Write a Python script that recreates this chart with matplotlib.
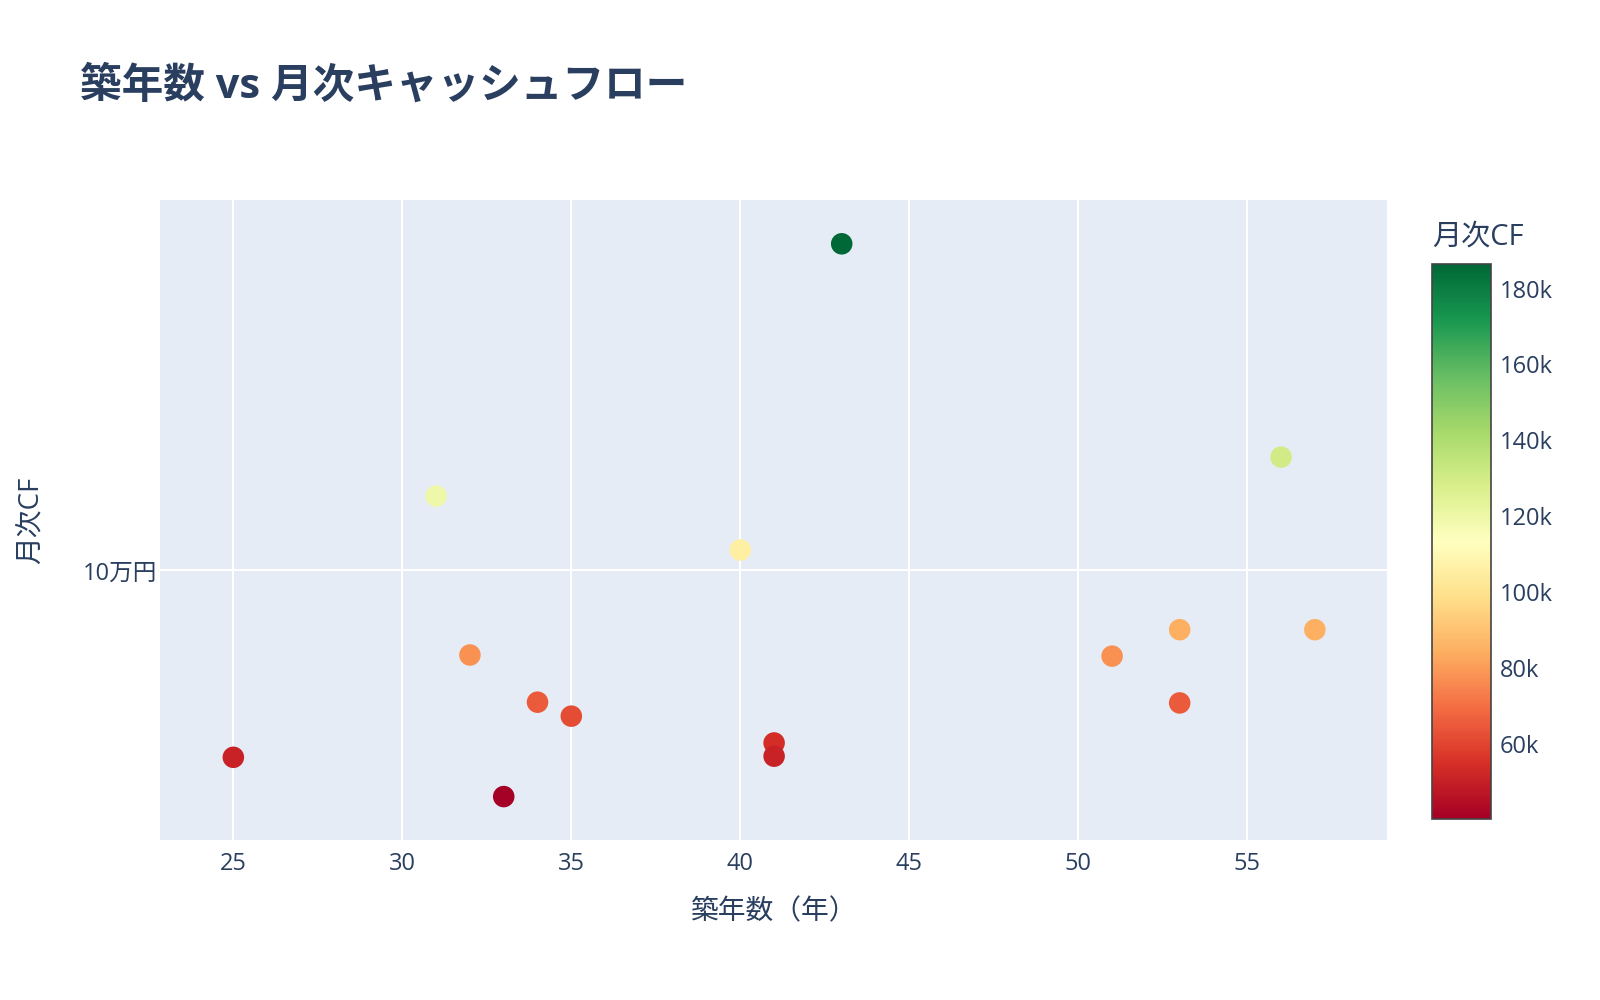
import matplotlib.pyplot as plt
import matplotlib as mpl
import numpy as np

plt.rcParams["font.family"] = ["Open Sans", "Noto Sans CJK JP", "DejaVu Sans"]

# 築年数 (years) and monthly cash flow (yen)
age = [43, 56, 31, 40, 53, 57, 32, 51, 34, 53, 35, 41, 25, 41, 33]
cf = [186500, 130000, 119700, 105400, 84300, 84300, 77600, 77300,
      65100, 64900, 61400, 54300, 50500, 50800, 40100]
cbar_ticks = [60000, 80000, 100000, 120000, 140000, 160000, 180000]
cbar_labels = ["60k", "80k", "100k", "120k", "140k", "160k", "180k"]

txt = "#2a3f5f"

fig = plt.figure(figsize=(16, 10), dpi=100)
ax = fig.add_axes([0.100, 0.160, 0.767, 0.640])
ax.set_facecolor("#e5ecf6")
for s in ax.spines.values():
    s.set_visible(False)

norm = mpl.colors.Normalize(vmin=min(cf), vmax=max(cf))
sc = ax.scatter(age, cf, c=cf, cmap="RdYlGn", norm=norm, s=240,
                edgecolors="none", zorder=3)

ax.set_xlim(22.83, 59.14)
ax.set_ylim(28600, 198100)
ax.set_xticks([25, 30, 35, 40, 45, 50, 55])
ax.set_yticks([100000])
ax.set_yticklabels(["10万円"])
ax.grid(True, color="white", linewidth=1.5, zorder=0)
ax.set_axisbelow(True)
ax.tick_params(axis="x", length=0, labelsize=17, colors=txt, pad=9)
ax.tick_params(axis="y", length=0, labelsize=17, colors=txt, pad=2)

fig.text(0.019, 0.48, "月次CF", rotation=90, fontsize=20, color=txt,
         ha="center", va="center")
fig.text(0.483, 0.088, "築年数（年）", fontsize=20, color=txt,
         ha="center", va="center")
fig.text(0.05, 0.913, "築年数 vs 月次キャッシュフロー", fontsize=30,
         fontweight="bold", color=txt, ha="left", va="center")

cax = fig.add_axes([0.895, 0.181, 0.037, 0.555])
cb = fig.colorbar(sc, cax=cax)
cb.set_ticks(cbar_ticks)
cb.set_ticklabels(cbar_labels)
cb.outline.set_edgecolor("#444444")
cb.outline.set_linewidth(1.2)
cax.tick_params(length=0, labelsize=17, colors=txt, pad=6)
fig.text(0.895, 0.763, "月次CF", fontsize=21, color=txt, ha="left",
         va="center")

fig.savefig("out.png", dpi=100, facecolor="white")
